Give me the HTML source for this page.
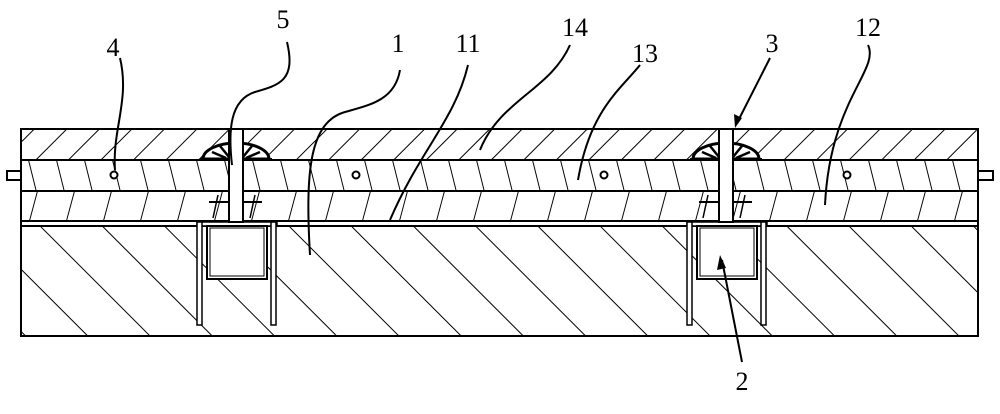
<!DOCTYPE html>
<html><head><style>html,body{margin:0;padding:0;background:#fff}</style></head>
<body>
<svg width="1000" height="409" viewBox="0 0 1000 409" xmlns="http://www.w3.org/2000/svg">
<defs>
<pattern id="pTop" width="23" height="23" patternUnits="userSpaceOnUse" patternTransform="rotate(45)"><line x1="0" y1="0" x2="0" y2="23" stroke="#000" stroke-width="2"/></pattern>
<pattern id="pMid" width="28" height="40" patternUnits="userSpaceOnUse" patternTransform="translate(0,160) skewX(14)"><line x1="0" y1="0" x2="0" y2="40" stroke="#000" stroke-width="2"/></pattern>
<pattern id="pLow" width="37" height="40" patternUnits="userSpaceOnUse" patternTransform="translate(0,191) skewX(-15)"><line x1="0" y1="0" x2="0" y2="40" stroke="#000" stroke-width="2"/></pattern>
<pattern id="pBot" width="44" height="44" patternUnits="userSpaceOnUse" patternTransform="rotate(-45)"><line x1="0" y1="0" x2="0" y2="44" stroke="#000" stroke-width="2"/></pattern>
</defs>
<g stroke="#000" stroke-width="2" fill="none">
<rect x="21" y="129" width="957" height="31" fill="url(#pTop)"/>
<rect x="21" y="160" width="957" height="31" fill="url(#pMid)"/>
<rect x="21" y="191" width="957" height="30" fill="url(#pLow)"/>
<rect x="21" y="221" width="957" height="5" fill="#fff"/>
<rect x="21" y="226" width="957" height="110" fill="url(#pBot)"/>
<rect x="21" y="129" width="957" height="207"/>
<line x1="21" y1="160" x2="978" y2="160"/>
<line x1="21" y1="191" x2="978" y2="191"/>
<rect x="7" y="171" width="14" height="9" fill="#fff"/>
<rect x="978" y="171" width="15" height="9" fill="#fff"/>
<circle cx="114" cy="175" r="3.5" fill="#fff"/>
<circle cx="356" cy="175" r="3.5" fill="#fff"/>
<circle cx="604" cy="175" r="3.5" fill="#fff"/>
<circle cx="847" cy="175" r="3.5" fill="#fff"/>
</g>
<g id="asm" stroke="#000" fill="none">
<path d="M203 159 A33 16 0 0 1 269 159 Z" fill="#fff" stroke-width="3"/>
<line x1="200" y1="159" x2="272" y2="159" stroke-width="2"/>
<path d="M212 152 L226 158 M220 146 L229 157 M252 146 L243 157 M260 152 L246 158" stroke-width="2.5"/>
<rect x="197" y="222" width="80" height="4" fill="#fff" stroke-width="1.5"/>
<rect x="197" y="222" width="5" height="103" fill="#fff" stroke-width="1.5"/>
<rect x="271" y="222" width="5" height="103" fill="#fff" stroke-width="1.5"/>
<rect x="207" y="226" width="60" height="53" fill="#fff" stroke-width="2"/>
<rect x="210" y="228" width="54" height="48" fill="#fff" stroke-width="1"/>
<line x1="209" y1="202" x2="262" y2="202" stroke-width="2"/>
<line x1="218" y1="195" x2="213" y2="218" stroke-width="1.5"/>
<line x1="255" y1="195" x2="250" y2="218" stroke-width="1.5"/>
<rect x="229" y="129" width="14" height="93" fill="#fff" stroke-width="2"/>
</g>
<use href="#asm" x="490"/>
<g stroke="#000" stroke-width="2" fill="none">
<path d="M120 58 C130 100 112 130 115 170"/>
<path d="M287 42 C296 80 280 85 255 92 C230 100 228 130 232 165"/>
<path d="M400 70 C395 100 370 105 345 112 C310 122 305 170 310 255"/>
<path d="M468 65 C455 120 420 150 390 220"/>
<path d="M570 45 C550 90 500 100 480 150"/>
<path d="M640 65 C620 90 590 110 578 180"/>
<path d="M868 45 C880 70 830 100 825 205"/>
<path d="M770 58 L737 123"/>
<path d="M742 362 L722 260"/>
</g>
<polygon points="735,128 734,114 742,118" fill="#000"/>
<polygon points="720,255 717,270 726,268" fill="#000"/>
<g font-family="Liberation Serif, serif" font-size="26" fill="#000" text-anchor="middle">
<text x="113" y="56">4</text>
<text x="283" y="28">5</text>
<text x="398" y="52">1</text>
<text x="468" y="52">11</text>
<text x="575" y="36">14</text>
<text x="645" y="62">13</text>
<text x="772" y="52">3</text>
<text x="868" y="36">12</text>
<text x="742" y="390">2</text>
</g>
</svg>
</body></html>
